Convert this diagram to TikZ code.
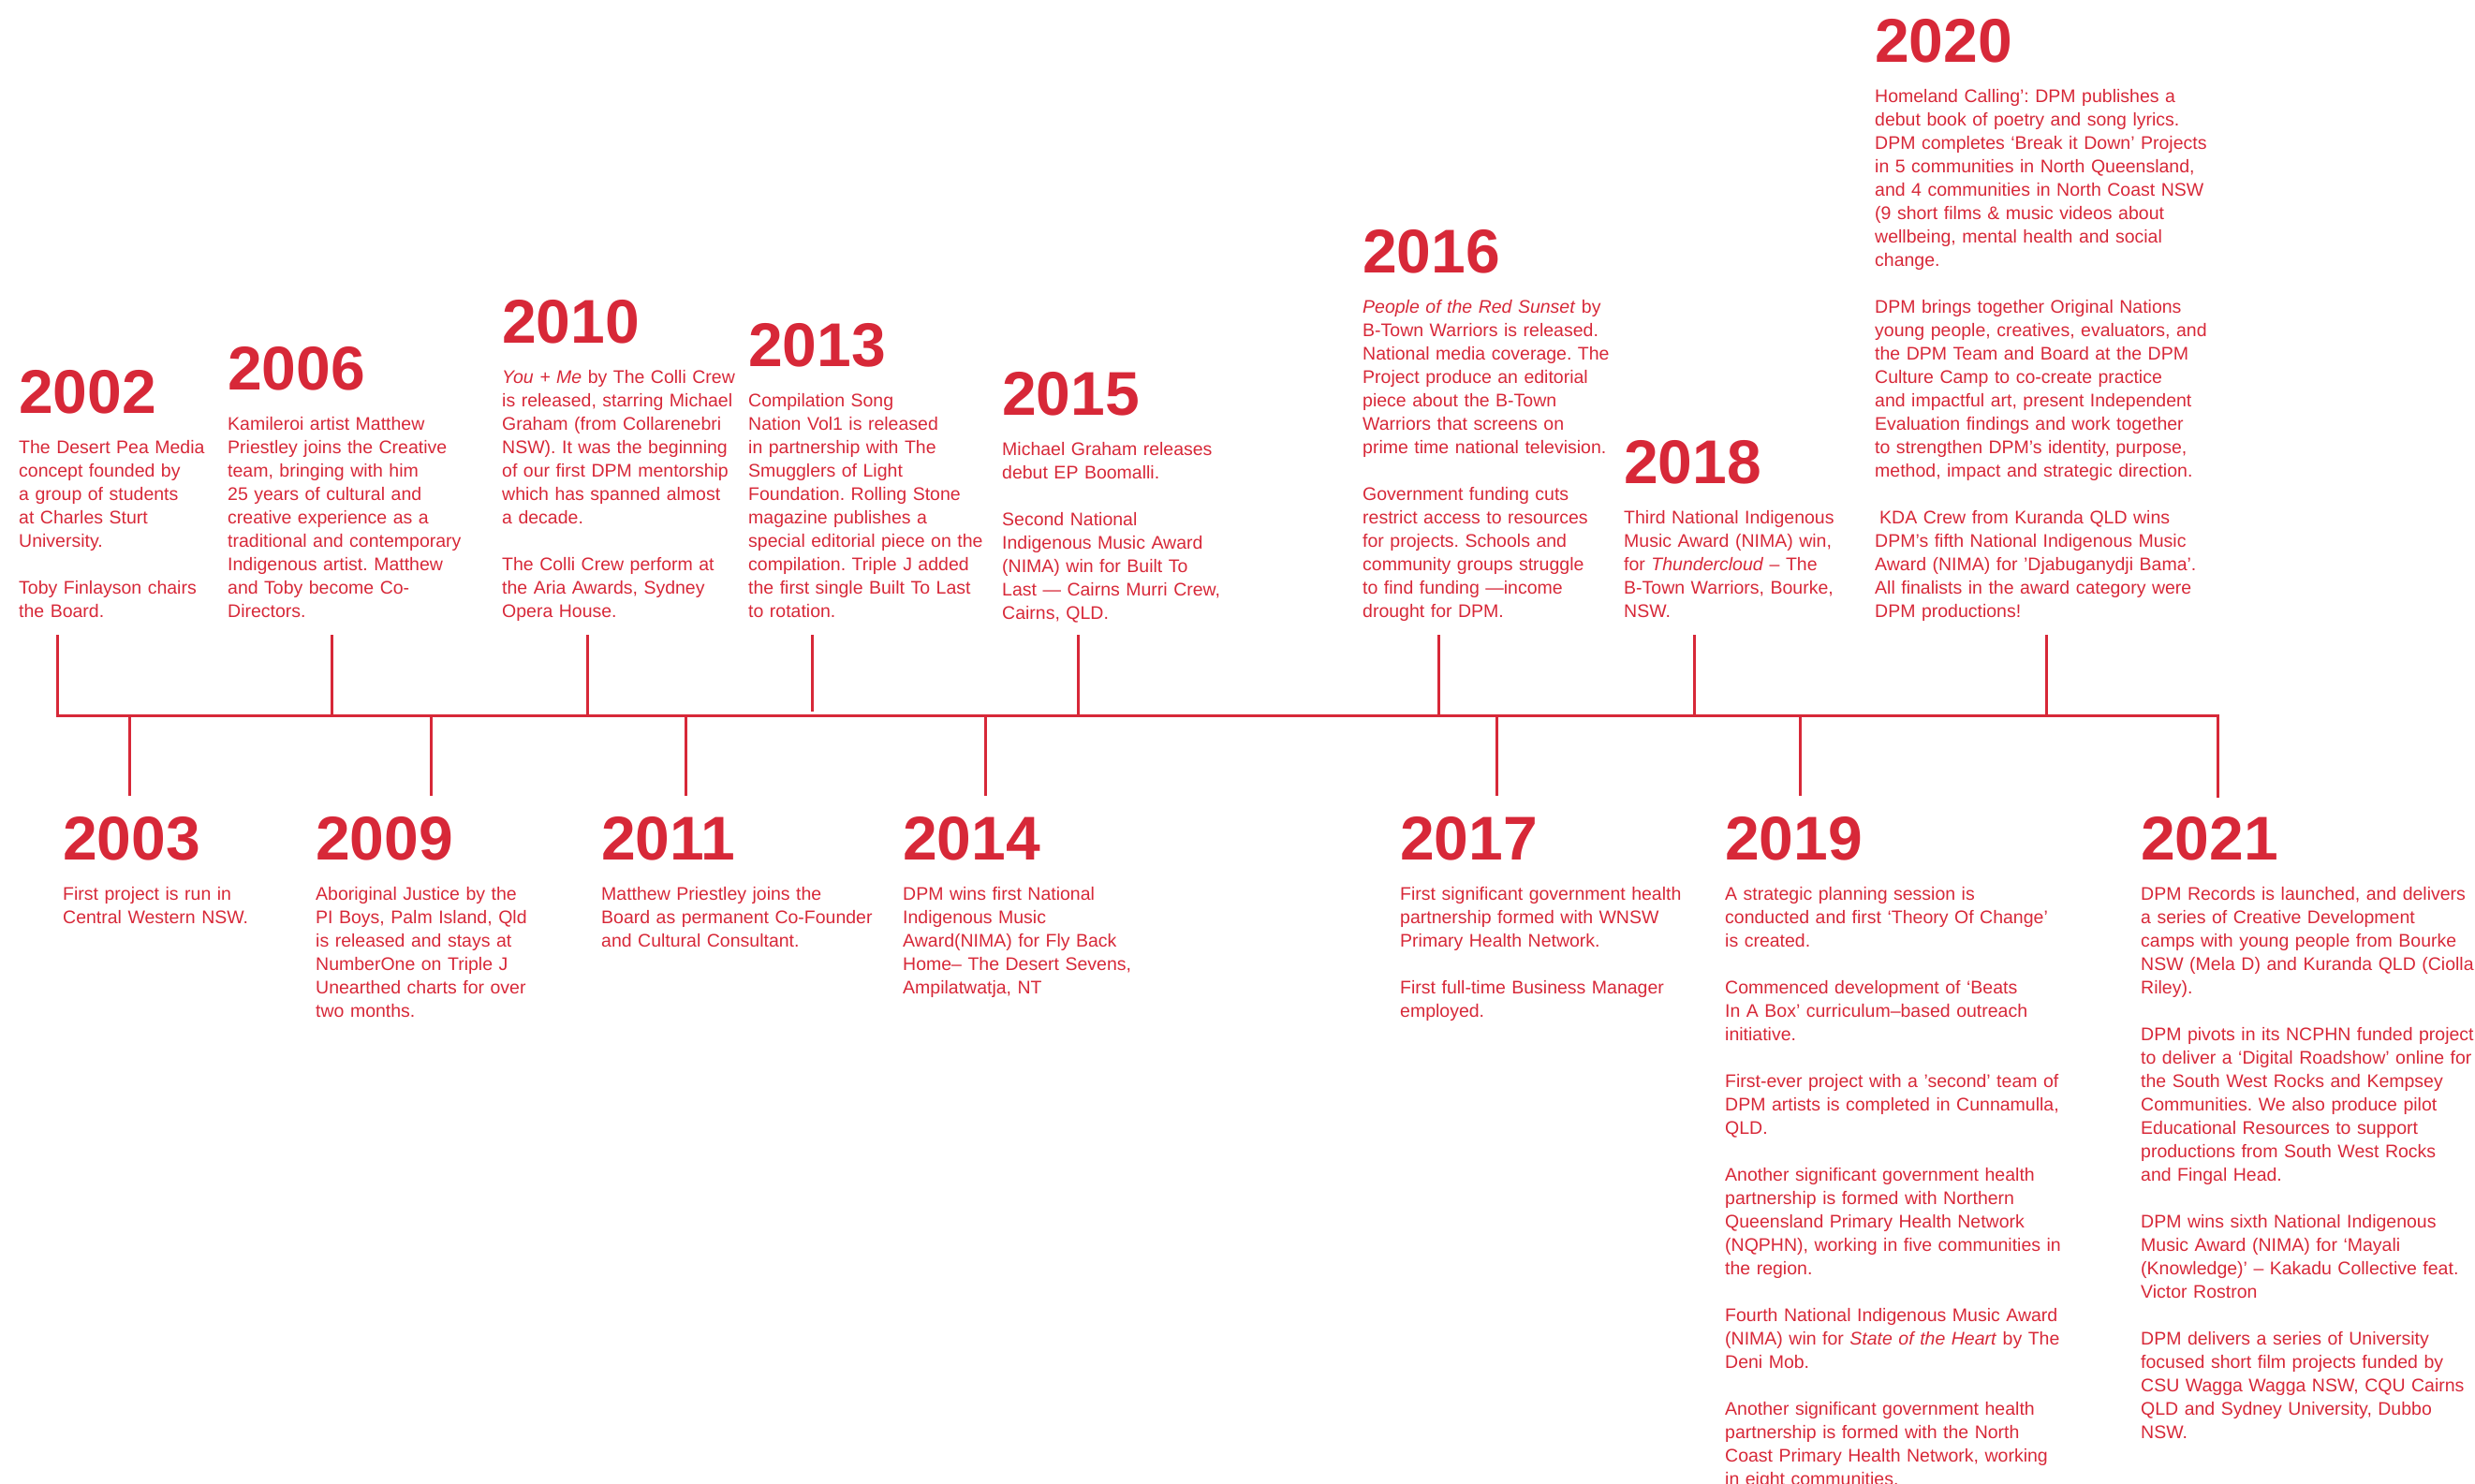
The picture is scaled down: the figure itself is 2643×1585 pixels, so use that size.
\documentclass[tikz,border=0pt]{standalone}
\usepackage{fontspec}
\setmainfont{Liberation Sans}
\frenchspacing
\definecolor{dpmred}{RGB}{215,40,56}
\tikzset{
  year/.style={anchor=base west, inner sep=0pt, text=dpmred,
    font=\fontsize{66}{66}\selectfont\bfseries},
  blurb/.style={anchor=base west, inner sep=0pt, text=dpmred,
    text width=440pt, align=left, font=\fontsize{19.5}{25}\selectfont},
  stem/.style={draw=dpmred, line width=3pt}
}

\begin{document}
\begin{tikzpicture}[x=1pt, y=-1pt]
  \useasboundingbox (0,0) rectangle (2643,1585);

  % axis, with the first and the last stem
  \coordinate (s2002) at (61,678);
  \coordinate (axl) at (61,764);
  \coordinate (axr) at (2368,764);
  \coordinate (s2021) at (2368,852);
  \draw[stem] (s2002) -- (axl) -- (axr) -- (s2021);

  \foreach \yr/\x in {2006/354, 2010/627, 2015/1151, 2016/1536, 2018/1809, 2020/2185} {
    \coordinate (s\yr) at (\x,678);
    \draw[stem] (s\yr) -- (s\yr |- axl);
  }
  \coordinate (s2013) at (867,678);
  \draw[stem] (s2013) -- ++(0,82);
  \foreach \yr/\x in {2003/138.7, 2009/460.5, 2011/732, 2014/1052, 2017/1598, 2019/1922} {
    \coordinate (s\yr) at (\x,850);
    \draw[stem] (s\yr |- axl) -- (s\yr);
  }

  % above the axis
  \node[year] (y2002) at (20,441) {2002};
  \node[blurb] (b2002) at ([yshift=-43pt]y2002.base west) {The Desert Pea Media\\
    concept founded by\\ a group of students\\ at Charles Sturt\\ University.\\[25pt]
    Toby Finlayson chairs\\ the Board.};

  \node[year] (y2006) at (243,416) {2006};
  \node[blurb] (b2006) at ([yshift=-43pt]y2006.base west) {Kamileroi artist Matthew\\
    Priestley joins the Creative\\ team, bringing with him\\ 25 years of cultural and\\
    creative experience as a\\ traditional and contemporary\\ Indigenous artist. Matthew\\
    and Toby become Co-\\ Directors.};

  \node[year] (y2010) at (536,366) {2010};
  \node[blurb] (b2010) at ([yshift=-43pt]y2010.base west) {\textit{You + Me} by The Colli Crew\\
    is released, starring Michael\\ Graham (from Collarenebri\\ NSW). It was the beginning\\
    of our first DPM mentorship\\ which has spanned almost\\ a decade.\\[25pt]
    The Colli Crew perform at\\ the Aria Awards, Sydney\\ Opera House.};

  \node[year] (y2013) at (799,391) {2013};
  \node[blurb] (b2013) at ([yshift=-43pt]y2013.base west) {Compilation Song\\
    Nation Vol1 is released\\ in partnership with The\\ Smugglers of Light\\
    Foundation. Rolling Stone\\ magazine publishes a\\ special editorial piece on the\\
    compilation. Triple J added\\ the first single Built To Last\\ to rotation.};

  \node[year] (y2015) at (1070,443) {2015};
  \node[blurb] (b2015) at ([yshift=-43pt]y2015.base west) {Michael Graham releases\\
    debut EP Boomalli.\\[25pt]
    Second National\\ Indigenous Music Award\\ (NIMA) win for Built To\\
    Last — Cairns Murri Crew,\\ Cairns, QLD.};

  \node[year] (y2016) at (1455,291) {2016};
  \node[blurb] (b2016) at ([yshift=-43pt]y2016.base west) {\textit{People of the Red Sunset} by\\
    B-Town Warriors is released.\\ National media coverage. The\\ Project produce an editorial\\
    piece about the B-Town\\ Warriors that screens on\\ prime time national television.\\[25pt]
    Government funding cuts\\ restrict access to resources\\ for projects. Schools and\\
    community groups struggle\\ to find funding —income\\ drought for DPM.};

  \node[year] (y2018) at (1734,516) {2018};
  \node[blurb] (b2018) at ([yshift=-43pt]y2018.base west) {Third National Indigenous\\
    Music Award (NIMA) win,\\ for \textit{Thundercloud} – The\\ B-Town Warriors, Bourke,\\ NSW.};

  \node[year] (y2020) at (2002,66) {2020};
  \node[blurb] (b2020) at ([yshift=-43pt]y2020.base west) {Homeland Calling’: DPM publishes a\\
    debut book of poetry and song lyrics.\\ DPM completes ‘Break it Down’ Projects\\
    in 5 communities in North Queensland,\\ and 4 communities in North Coast NSW\\
    (9 short films \& music videos about\\ wellbeing, mental health and social\\ change.\\[25pt]
    DPM brings together Original Nations\\ young people, creatives, evaluators, and\\
    the DPM Team and Board at the DPM\\ Culture Camp to co-create practice\\
    and impactful art, present Independent\\ Evaluation findings and work together\\
    to strengthen DPM’s identity, purpose,\\ method, impact and strategic direction.\\[25pt]
    \hspace*{5pt}KDA Crew from Kuranda QLD wins\\ DPM’s fifth National Indigenous Music\\
    Award (NIMA) for 'Djabuganydji Bama'.\\ All finalists in the award category were\\
    DPM productions!};

  % below the axis
  \node[year] (y2003) at (67,918) {2003};
  \node[blurb] (b2003) at ([yshift=-43pt]y2003.base west) {First project is run in\\
    Central Western NSW.};

  \node[year] (y2009) at (337,918) {2009};
  \node[blurb] (b2009) at ([yshift=-43pt]y2009.base west) {Aboriginal Justice by the\\
    PI Boys, Palm Island, Qld\\ is released and stays at\\ NumberOne on Triple J\\
    Unearthed charts for over\\ two months.};

  \node[year] (y2011) at (642,918) {2011};
  \node[blurb] (b2011) at ([yshift=-43pt]y2011.base west) {Matthew Priestley joins the\\
    Board as permanent Co-Founder\\ and Cultural Consultant.};

  \node[year] (y2014) at (964,918) {2014};
  \node[blurb] (b2014) at ([yshift=-43pt]y2014.base west) {DPM wins first National\\
    Indigenous Music\\ Award(NIMA) for Fly Back\\ Home– The Desert Sevens,\\ Ampilatwatja, NT};

  \node[year] (y2017) at (1495,918) {2017};
  \node[blurb] (b2017) at ([yshift=-43pt]y2017.base west) {First significant government health\\
    partnership formed with WNSW\\ Primary Health Network.\\[25pt]
    First full-time Business Manager\\ employed.};

  \node[year] (y2019) at (1842,918) {2019};
  \node[blurb] (b2019) at ([yshift=-43pt]y2019.base west) {A strategic planning session is\\
    conducted and first ‘Theory Of Change’\\ is created.\\[25pt]
    Commenced development of ‘Beats\\ In A Box’ curriculum–based outreach\\ initiative.\\[25pt]
    First-ever project with a 'second' team of\\ DPM artists is completed in Cunnamulla,\\ QLD.\\[25pt]
    Another significant government health\\ partnership is formed with Northern\\
    Queensland Primary Health Network\\ (NQPHN), working in five communities in\\ the region.\\[25pt]
    Fourth National Indigenous Music Award\\ (NIMA) win for \textit{State of the Heart} by The\\ Deni Mob.\\[25pt]
    Another significant government health\\ partnership is formed with the North\\
    Coast Primary Health Network, working\\ in eight communities.};

  \node[year] (y2021) at (2286,918) {2021};
  \node[blurb] (b2021) at ([yshift=-43pt]y2021.base west) {DPM Records is launched, and delivers\\
    a series of Creative Development\\ camps with young people from Bourke\\
    NSW (Mela D) and Kuranda QLD (Ciolla\\ Riley).\\[25pt]
    DPM pivots in its NCPHN funded project\\ to deliver a ‘Digital Roadshow’ online for\\
    the South West Rocks and Kempsey\\ Communities. We also produce pilot\\
    Educational Resources to support\\ productions from South West Rocks\\ and Fingal Head.\\[25pt]
    DPM wins sixth National Indigenous\\ Music Award (NIMA) for ‘Mayali\\
    (Knowledge)’ – Kakadu Collective feat.\\ Victor Rostron\\[25pt]
    DPM delivers a series of University\\ focused short film projects funded by\\
    CSU Wagga Wagga NSW, CQU Cairns\\ QLD and Sydney University, Dubbo\\ NSW.};
\end{tikzpicture}
\end{document}
